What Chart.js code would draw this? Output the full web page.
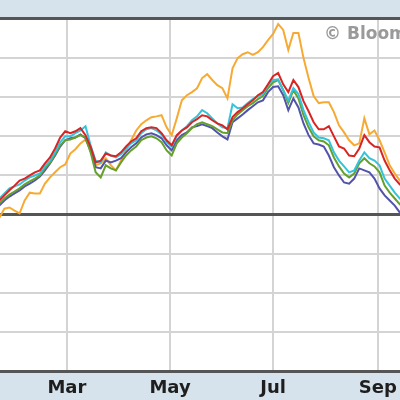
<!DOCTYPE html>
<html>
<head>
<meta charset="utf-8">
<script src="https://cdn.jsdelivr.net/npm/chart.js@4/dist/chart.umd.min.js"></script>
<style>
html,body{margin:0;padding:0;background:#d6e3ec;}
#wrap{width:400px;height:400px;position:relative;}
</style>
</head>
<body>
<div id="wrap"><canvas id="c" width="400" height="400"></canvas></div>
<script>
// Day-of-year positions of the samples
const days = [19,22,25,28,31,34,37,40,43,46,49,52,55,58,61,64,67,70,73,76,79,82,85,88,91,94,97,100,103,106,109,112,115,118,121,124,127,130,133,136,139,142,145,148,151,154,157,160,163,166,169,172,175,178,181,184,187,190,193,196,199,202,205,208,211,214,217,220,223,226,229,232,235,238,241,244,247,250,253,256,259];

// Month tick positions (day of year) and labels
const tickDays = [59, 120, 181, 243];
const tickLabels = ["Mar", "May", "Jul", "Sep"];

// Percent change series
const redSeries = [3.6,4.9,6.2,7.4,8.7,9.2,10.0,10.8,11.3,13.1,14.6,16.9,19.7,21.3,20.8,21.3,22.1,20.3,17.4,13.3,13.8,15.6,15.1,14.9,15.9,17.4,18.7,19.5,21.3,22.1,22.3,22.1,20.8,19.0,17.7,20.3,21.5,22.3,23.6,24.4,25.4,25.1,24.1,23.3,22.8,21.8,24.9,26.2,27.2,28.2,29.2,30.5,31.3,33.3,35.4,36.2,33.3,31.3,34.4,32.6,29.0,26.4,23.6,21.8,21.8,22.6,20.0,17.4,16.9,15.1,14.9,16.9,20.3,18.5,17.4,17.2,13.8,11.3,9.2,7.7,6.9];
const orangeSeries = [-0.8,1.5,1.8,1.0,0.3,3.6,5.6,5.4,5.4,7.9,9.5,10.8,12.1,12.8,15.6,16.7,18.2,19.2,16.4,12.6,13.1,14.4,12.6,11.3,13.8,16.4,19.0,21.5,23.1,24.1,24.9,25.1,25.4,22.3,20.3,24.6,29.2,30.5,31.3,32.3,34.9,35.9,34.4,33.1,32.3,29.7,37.4,40.0,41.0,41.5,40.8,41.5,42.8,44.6,46.2,48.7,47.2,42.1,46.4,46.4,40.0,34.9,30.3,28.5,28.7,28.7,26.2,22.8,21.0,19.0,17.7,18.2,24.6,20.5,21.5,19.0,15.9,12.6,10.5,8.7,7.4];
const blueSeries = [2.3,3.6,4.6,5.4,6.2,7.2,7.9,8.7,9.7,11.3,13.1,15.1,17.4,19.0,19.5,19.7,20.5,19.5,16.4,12.1,11.8,13.8,13.3,13.8,14.4,15.9,17.2,18.2,19.7,20.5,20.8,20.3,19.5,17.7,16.4,19.0,20.3,21.0,22.3,22.6,23.1,22.6,22.1,21.0,20.0,19.2,23.6,24.6,25.6,26.7,27.7,28.7,29.2,31.3,32.6,32.8,30.5,26.7,29.7,27.4,23.3,20.3,18.2,17.9,17.4,15.1,12.1,10.0,8.2,7.9,9.2,11.8,11.3,10.8,9.2,6.7,4.9,3.6,2.3,0.5,-0.8];
const cyanSeries = [4.1,5.4,6.7,7.2,7.7,8.7,9.5,10.0,10.5,12.3,13.8,15.9,18.5,20.0,20.0,20.8,21.5,22.6,17.7,13.8,13.3,15.9,15.1,14.6,15.4,16.9,18.2,19.0,20.8,21.8,22.1,21.5,20.5,18.5,17.4,20.0,21.5,22.6,24.1,25.1,26.7,25.9,24.6,23.3,22.3,22.1,28.2,27.2,27.4,28.5,29.5,30.3,30.8,33.1,34.4,34.6,31.8,29.2,32.3,30.8,26.7,23.6,21.0,19.7,19.5,19.0,15.9,13.8,12.3,10.8,11.3,13.8,15.9,14.4,13.8,12.6,9.2,7.4,5.6,4.1,3.1];
const greenSeries = [2.8,4.1,5.1,5.9,6.7,7.7,8.5,9.2,10.0,11.8,13.3,15.4,17.7,19.0,19.2,19.7,20.3,19.7,15.9,10.8,9.5,12.6,11.8,11.3,13.3,15.1,16.4,17.4,19.0,19.7,20.0,19.5,18.5,16.4,15.1,18.2,19.7,20.8,22.1,23.1,23.6,23.1,22.6,21.8,21.0,20.8,24.1,25.6,26.7,27.7,28.5,29.5,30.3,32.3,33.8,34.4,31.8,28.5,31.8,29.7,25.4,22.3,20.0,19.0,18.7,17.7,14.6,12.3,10.5,9.5,10.5,13.1,14.4,13.1,12.3,10.8,7.4,5.6,4.1,2.6,1.5];

const seriesNames = ["Red", "Cyan", "Green", "Blue", "Orange"];

function pts(arr){ return arr.map((v,i)=>({x:days[i], y:v})); }

const bgPlugin = {
  id: 'bg',
  beforeDraw(chart){
    const {ctx, chartArea:a} = chart;
    ctx.save();
    ctx.fillStyle = '#d6e3ec';
    ctx.fillRect(0,0,chart.width,chart.height);
    ctx.fillStyle = '#ffffff';
    ctx.fillRect(0,a.top,chart.width,a.bottom-a.top);
    ctx.restore();
  },
  beforeDatasetsDraw(chart){
    const {ctx} = chart;
    ctx.save();
    ctx.font = 'bold 17px "DejaVu Sans"';
    ctx.fillStyle = '#9a9a9a';
    ctx.textBaseline = 'middle';
    ctx.fillText('\u00A9 Bloomberg', 324, 35);
    ctx.restore();
  },
  afterDraw(chart){
    const {ctx, chartArea:a} = chart;
    ctx.save();
    ctx.strokeStyle = '#555555';
    ctx.lineWidth = 3;
    ctx.beginPath();
    ctx.moveTo(0, a.top - 0.5); ctx.lineTo(chart.width, a.top - 0.5);
    ctx.moveTo(0, a.bottom + 0.5); ctx.lineTo(chart.width, a.bottom + 0.5);
    ctx.stroke();
    ctx.restore();
  }
};

const mk = (label, data, color) => ({
  label, data: pts(data), borderColor: color, borderWidth: 2,
  pointRadius: 0, tension: 0, fill: false
});

new Chart(document.getElementById('c'), {
  type: 'line',
  data: {
    datasets: [
      mk(seriesNames[0], redSeries, '#d92424'),
      mk(seriesNames[1], cyanSeries, '#35c3dc'),
      mk(seriesNames[2], greenSeries, '#64a02c'),
      mk(seriesNames[3], blueSeries, '#5254ac'),
      mk(seriesNames[4], orangeSeries, '#f7aa33')
    ]
  },
  options: {
    responsive: false,
    animation: false,
    layout: { padding: { top: 19, left: 0, right: 0, bottom: 0 } },
    plugins: { legend: { display: false }, tooltip: { enabled: false } },
    scales: {
      x: {
        type: 'linear', min: 19.4, max: 256.1,
        afterBuildTicks: s => { s.ticks = tickDays.map(v => ({ value: v })); },
        afterFit: s => { s.height = 29; s.paddingLeft = 0; s.paddingRight = 0; },
        grid: { color: '#d4d4d4', lineWidth: 2, drawTicks: false },
        border: { display: false },
        ticks: {
          padding: 7, color: '#1e1e1e', maxRotation: 0, autoSkip: false,
          font: { family: '"DejaVu Sans"', weight: 'bold', size: 18 },
          callback: v => { const i = tickDays.indexOf(v); return i >= 0 ? tickLabels[i] : ''; }
        }
      },
      y: {
        min: -40, max: 50,
        afterFit: s => { s.width = 0; },
        ticks: { display: false, stepSize: 10 },
        border: { display: false },
        grid: {
          drawTicks: false,
          color: c => c.tick.value === 0 ? '#555555' : '#d4d4d4',
          lineWidth: c => c.tick.value === 0 ? 3 : 2
        }
      }
    }
  },
  plugins: [bgPlugin]
});
</script>
</body>
</html>
